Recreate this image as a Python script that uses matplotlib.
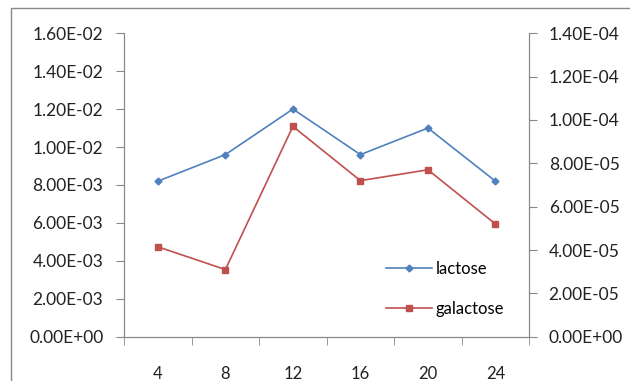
import matplotlib.pyplot as plt
from matplotlib.patches import Rectangle

hours = ['4', '8', '12', '16', '20', '24']
lactose = [8.2e-3, 9.6e-3, 1.2e-2, 9.6e-3, 1.1e-2, 8.2e-3]
galactose = [4.15e-5, 3.1e-5, 9.7e-5, 7.2e-5, 7.7e-5, 5.2e-5]

left_ticks = [i * 2e-3 for i in range(9)]
right_ticks = [i * 2e-5 for i in range(8)]

plt.rcParams['font.family'] = ['Lato', 'DejaVu Sans']
fig = plt.figure(figsize=(6.3, 3.81), dpi=100)
ax = fig.add_axes([0.197, 0.116, 0.643, 0.797])
ax2 = ax.twinx()

x = list(range(len(hours)))
l1, = ax.plot(x, lactose, color='#4F81BD', marker='D', markersize=3.5, lw=1.2, label='lactose')
l2, = ax2.plot(x, galactose, color='#C0504D', marker='s', markersize=5, lw=1.2, label='galactose')

ax.set_xlim(-0.5, len(hours) - 0.5)
ax.set_ylim(0, 0.016)
ax2.set_ylim(0, 1.4e-4)
ax.set_yticks(left_ticks)
ax.set_yticklabels(['%.2E' % v if v > 0 else '0.00E+00' for v in left_ticks])
ax2.set_yticks(right_ticks)
ax2.set_yticklabels(['%.2E' % v if v > 0 else '0.00E+00' for v in right_ticks])
ax.set_xticks(x)
ax.set_xticklabels(hours)
ax.set_xticks([i - 0.5 for i in range(len(hours) + 1)], minor=True)
ax.tick_params(axis='x', which='major', length=0, pad=21, labelsize=12, colors='#222222')
ax.tick_params(axis='x', which='minor', length=6, color='#888888', direction='out')
ax.tick_params(axis='y', length=6, colors='#888888', labelcolor='#222222', labelsize=12.5, pad=9)
ax2.tick_params(axis='y', length=6, colors='#888888', labelcolor='#222222', labelsize=12.5, pad=8)
for a in (ax, ax2):
    a.spines['top'].set_visible(False)
    for s in ('left', 'right', 'bottom'):
        a.spines[s].set_color('#888888')

ax2.legend([l1, l2], ['lactose', 'galactose'], loc='lower right', frameon=False,
           fontsize=12, handlelength=2.8, handletextpad=0.2, labelspacing=1.45,
           bbox_to_anchor=(0.975, 0.015))

# outer chart frame (only the top and left edges are inside the picture)
fig.patches.append(Rectangle((11 / 630, -0.1), 1.2, 373 / 381 + 0.1, transform=fig.transFigure,
                             fill=False, edgecolor='#888888', lw=1))

plt.savefig('out.png', dpi=100)
